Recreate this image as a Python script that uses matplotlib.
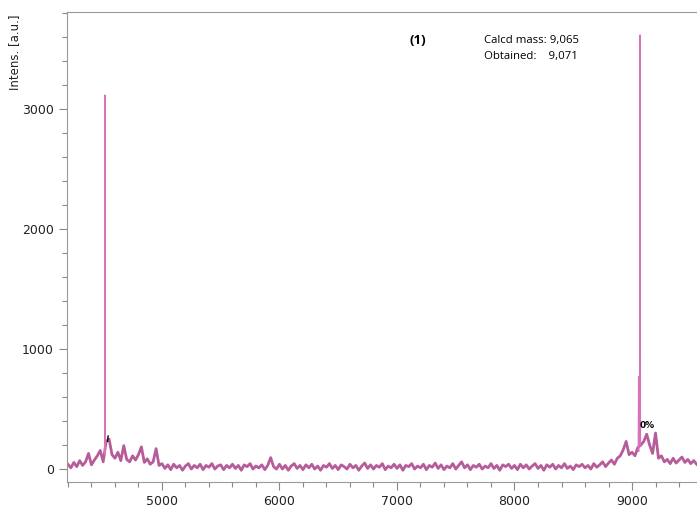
import numpy as np
import matplotlib.pyplot as plt
from matplotlib.ticker import MultipleLocator

# baseline trace, one value every 25 Da starting at 4200
baseline = [
    40, 10, 55, 20, 70, 30, 60, 130, 35, 75, 110, 155, 60,
    230, 250, 120, 90, 140, 70, 195, 80, 60, 110, 75, 120, 185, 55, 85, 40, 60, 170, 30,
    45, 5, 35, -5, 40, 10, 30, -10, 25, 45, 0, 30, 10, 40, -5, 30, 15, 45, 0, 25,
    35, -5, 30, 10, 40, 5, 30, -10, 35, 20, 45, 0, 25, 10, 35, -5, 30,
    95, 20, 0,
    40, 0, 30, -10, 25, 45, 5, 30, -5, 35, 10, 40, 0, 25, -10, 30, 15, 45, 5, 30,
    -5, 35, 20, 0, 40, 10, 30, -10, 25, 50, 5, 35, 0, 30, 15, 45, -5, 25, 10, 40,
    5, 35, -10, 30, 20, 45, 0, 25, 10, 40, -5, 30, 15, 50, 5, 35, -5, 25, 10, 45,
    0, 30, 60, 10, 35, -5, 30, 15, 40, 0, 25, 10, 45, 5, 30, -10, 35, 20, 40, 5,
    30, -5, 40, 10, 35, 0, 25, 45, 5, 30, -10, 35, 15, 40, 0, 30, 10, 45, 5, 25,
    -5, 35, 20, 40, 10, 30, 0, 45, 15, 35, 60, 20,
    50, 75, 40, 90, 110, 160, 230, 120,
    140, 110, 180,
    200, 230, 290, 200, 130, 300, 90, 110,
    60, 80, 45, 90, 50, 75, 100, 55, 80, 45, 70, 40,
]
mz_start = 4200
mz_step = 25

# sharp peaks
peak_mz = [4515, 9056, 9069]
peak_int = [3117, 770, 3617]
peak_base = [120, 150, 200]

mz = mz_start + mz_step * np.arange(len(baseline))

fig = plt.figure(figsize=(6.97, 5.11), dpi=100)
ax = fig.add_axes([67 / 697, 1 - 482 / 511, 1 - 67 / 697, (482 - 12) / 511])

ax.plot(mz, baseline, color='#b04a90', lw=2.0, alpha=0.9)
for m, h, b in zip(peak_mz, peak_int, peak_base):
    ax.plot([m - 3, m, m + 3], [b, h, b], color='#d873b8', lw=0.9)

ax.set_xlim(4192, 9553)
ax.set_ylim(-108, 3808)

ax.xaxis.set_major_locator(MultipleLocator(1000))
ax.xaxis.set_minor_locator(MultipleLocator(200))
ax.yaxis.set_major_locator(MultipleLocator(1000))
ax.yaxis.set_minor_locator(MultipleLocator(200))
ax.tick_params(which='both', direction='out', color='#888888', labelsize=9,
               labelcolor='#222222')
ax.tick_params(which='major', length=6, width=0.8)
ax.tick_params(which='minor', length=3.5, width=0.8)

for side in ['left', 'bottom', 'top']:
    ax.spines[side].set_color('#999999')
    ax.spines[side].set_linewidth(0.8)
ax.spines['right'].set_visible(False)

fig.text(15 / 697, 1 - 52 / 511, 'Intens. [a.u.]', rotation=90,
         ha='center', va='center', fontsize=8.5, color='#222222')

fig.text(418 / 697, 1 - 40 / 511, '(1)', fontsize=9.5, fontweight='bold',
         ha='center', va='center', family='Open Sans')
fig.text(484 / 697, 1 - 41 / 511, 'Calcd mass: 9,065', fontsize=8.2,
         ha='left', va='center', family='Open Sans')
fig.text(484 / 697, 1 - 57 / 511, 'Obtained:    9,071', fontsize=8.2,
         ha='left', va='center', family='Open Sans')

# overlapping peak labels near 9130
ax.text(9130, 360, '0%', fontsize=6.5, fontweight='bold', ha='center', va='center')

# small black mark next to the first peak
ax.plot([4537, 4542], [230, 275], color='black', lw=1.0)

fig.savefig('out.png', dpi=100)
